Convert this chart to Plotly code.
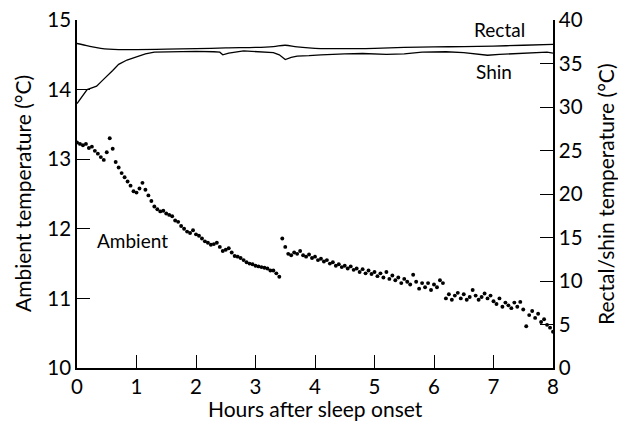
import plotly.graph_objects as go

# Ambient temperature (°C), one reading every 0.05 h (3 min) from sleep onset
ambient_temp = [
    13.24, 13.22, 13.20, 13.22, 13.16, 13.18, 13.12, 13.08, 13.03, 12.99,
    13.10, 13.30, 13.15, 12.96, 12.88, 12.80, 12.74, 12.68, 12.62, 12.54,
    12.52, 12.58, 12.66, 12.56, 12.48, 12.40, 12.32, 12.28, 12.25, 12.26,
    12.22, 12.20, 12.18, 12.12, 12.10, 12.04, 12.00, 11.96, 11.94, 11.98,
    11.92, 11.90, 11.86, 11.82, 11.80, 11.77, 11.78, 11.80, 11.74, 11.68,
    11.70, 11.72, 11.66, 11.61, 11.60, 11.58, 11.55, 11.52, 11.50, 11.49,
    11.47, 11.46, 11.45, 11.44, 11.43, 11.40, 11.40, 11.36, 11.31, 11.86,
    11.74, 11.64, 11.62, 11.66, 11.64, 11.68, 11.62, 11.60, 11.63, 11.58,
    11.60, 11.55, 11.57, 11.53, 11.55, 11.50, 11.52, 11.47, 11.49, 11.45,
    11.47, 11.43, 11.46, 11.41, 11.43, 11.38, 11.42, 11.36, 11.40, 11.35,
    11.38, 11.32, 11.36, 11.30, 11.38, 11.28, 11.33, 11.26, 11.30, 11.22,
    11.28, 11.24, 11.20, 11.34, 11.24, 11.14, 11.22, 11.16, 11.22, 11.12,
    11.20, 11.16, 11.26, 11.22, 11.00, 11.06, 10.98, 11.04, 11.08, 11.00,
    11.06, 10.98, 11.02, 11.12, 11.04, 10.98, 11.02, 11.07, 11.00, 11.04,
    10.96, 10.92, 11.00, 10.88, 10.94, 10.90, 10.86, 10.94, 10.88, 10.95,
    10.84, 10.60, 10.76, 10.82, 10.72, 10.78, 10.66, 10.70, 10.62, 10.58,
    10.52,
]
ambient_hours = [round(i * 0.05, 2) for i in range(len(ambient_temp))]

# Rectal temperature (°C)
rectal_hours = [0.0, 0.2, 0.4, 0.7, 1.0, 1.5, 2.0, 2.5, 3.0, 3.3, 3.5, 3.7,
                4.0, 4.5, 5.0, 5.5, 6.0, 6.5, 7.0, 7.5, 8.0]
rectal_temp = [37.3, 37.0, 36.75, 36.6, 36.6, 36.65, 36.7, 36.8, 36.85, 36.95,
               37.1, 36.9, 36.75, 36.7, 36.75, 36.85, 36.9, 36.95, 37.0, 37.1, 37.2]

# Shin temperature (°C)
shin_hours = [0.0, 0.08, 0.17, 0.25, 0.33, 0.42, 0.5, 0.6, 0.7, 0.84, 1.0, 1.15,
              1.3, 1.5, 1.75, 2.0, 2.3, 2.4, 2.45, 2.55, 2.8, 3.0, 3.3, 3.4,
              3.5, 3.6, 3.7, 3.9, 4.1, 4.5, 4.8, 5.2, 5.5, 5.8, 6.2, 6.5, 6.8,
              6.9, 7.1, 7.4, 7.7, 7.9, 8.0]
shin_temp = [30.4, 31.2, 32.0, 32.2, 32.4, 33.0, 33.5, 34.2, 34.9, 35.4, 35.75, 36.1,
             36.3, 36.35, 36.35, 36.4, 36.35, 36.3, 36.0, 36.2, 36.45, 36.4, 36.25, 36.0,
             35.45, 35.7, 35.85, 35.9, 36.0, 36.1, 36.15, 36.05, 36.1, 36.3, 36.35, 36.25, 36.0,
             35.95, 36.05, 36.15, 36.3, 36.3, 36.2]

x_ticks = [0, 1, 2, 3, 4, 5, 6, 7, 8]
left_ticks = [10, 11, 12, 13, 14, 15]
right_ticks = [0, 5, 10, 15, 20, 25, 30, 35, 40]

FONT = "Lato, 'Noto Sans', sans-serif"
TICK_SIZE = 20.5
TITLE_SIZE = 21
LABEL_SIZE = 19

fig = go.Figure()
fig.add_trace(go.Scatter(x=ambient_hours, y=ambient_temp, mode="markers",
                         marker=dict(color="black", size=3.9), yaxis="y",
                         showlegend=False, hoverinfo="skip"))
fig.add_trace(go.Scatter(x=rectal_hours, y=rectal_temp, mode="lines",
                         line=dict(color="black", width=1.3, shape="spline"),
                         yaxis="y2", showlegend=False))
fig.add_trace(go.Scatter(x=shin_hours, y=shin_temp, mode="lines",
                         line=dict(color="black", width=1.3),
                         yaxis="y2", showlegend=False))

axis_common = dict(showline=True, linecolor="black", linewidth=1.5,
                   ticks="inside", ticklen=13, tickwidth=1.2, tickcolor="black",
                   showgrid=False, zeroline=False, automargin=False,
                   ticklabeloverflow="allow",
                   tickfont=dict(size=TICK_SIZE, color="black", family=FONT))

fig.update_layout(
    width=618, height=421,
    margin=dict(l=77, r=65, t=20, b=53, autoexpand=False),
    paper_bgcolor="white", plot_bgcolor="white",
    font=dict(family=FONT, color="black", size=TICK_SIZE),
    xaxis=dict(range=[0, 8], tickvals=x_ticks, **axis_common),
    yaxis=dict(range=[10, 15], tickvals=left_ticks, **axis_common),
    yaxis2=dict(range=[0, 40], tickvals=right_ticks, overlaying="y", side="right",
                anchor="x", **axis_common),
    annotations=[
        dict(x=0.5, y=0, xref="paper", yref="paper", yshift=-40, text="Hours after sleep onset",
             showarrow=False, xanchor="center", yanchor="middle",
             font=dict(size=TITLE_SIZE, family=FONT, color="black")),
        dict(x=0, y=0.5, xref="paper", yref="paper", xshift=-55, text="Ambient temperature (°C)",
             showarrow=False, textangle=-90, xanchor="center", yanchor="middle",
             font=dict(size=TITLE_SIZE, family=FONT, color="black")),
        dict(x=1, y=0.5, xref="paper", yref="paper", xshift=52, text="Rectal/shin temperature (°C)",
             showarrow=False, textangle=-90, xanchor="center", yanchor="middle",
             font=dict(size=TITLE_SIZE, family=FONT, color="black")),
        dict(x=7.1, y=38.95, xref="x", yref="y2", text="Rectal", showarrow=False,
             font=dict(size=LABEL_SIZE, family=FONT, color="black")),
        dict(x=7.0, y=34.1, xref="x", yref="y2", text="Shin", showarrow=False,
             font=dict(size=LABEL_SIZE, family=FONT, color="black")),
        dict(x=0.94, y=11.83, xref="x", yref="y", text="Ambient", showarrow=False,
             font=dict(size=LABEL_SIZE, family=FONT, color="black")),
    ],
)

# Remove the default 8 px page margin so the figure fills the window exactly
fig.write_html("out.html", config={"displayModeBar": False},
               post_script="document.body.style.margin='0';")
